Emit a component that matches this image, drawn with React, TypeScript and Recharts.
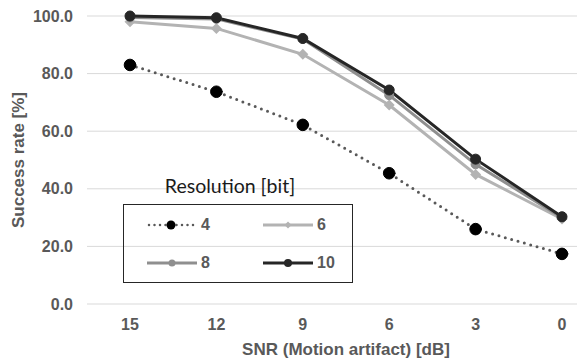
import React from 'react';
import { LineChart, Line, XAxis, YAxis, CartesianGrid, Label } from 'recharts';

const categories = ['15', '12', '9', '6', '3', '0'];
const res4 = [83.0, 73.7, 62.2, 45.4, 26.0, 17.4];
const res6 = [98.0, 95.7, 86.7, 69.1, 45.0, 29.5];
const res8 = [99.5, 99.0, 92.0, 72.5, 48.5, 30.0];
const res10 = [100.0, 99.4, 92.2, 74.3, 50.3, 30.3];
const yTicks = [0, 20, 40, 60, 80, 100];
const seriesNames = ['4', '6', '8', '10'];

const data = categories.map((c, i) => ({
  snr: c,
  r4: res4[i],
  r6: res6[i],
  r8: res8[i],
  r10: res10[i],
}));

const FONT = '"Liberation Sans", Arial, sans-serif';
const TXT = '#595959';
const C4 = '#595959';
const C6 = '#b3b3b3';
const C8 = '#8f8f8f';
const C10 = '#262626';

const Diamond = (props: any) => {
  const { cx, cy } = props;
  if (cx == null || cy == null) return null;
  const s = 5.5;
  return (
    <path
      d={`M${cx},${cy - s}L${cx + s},${cy}L${cx},${cy + s}L${cx - s},${cy}Z`}
      fill={C6}
      stroke="none"
    />
  );
};

const YTitle = () => (
  <text
    x={18}
    y={160}
    transform="rotate(-90 18 160)"
    textAnchor="middle"
    dominantBaseline="central"
    fontFamily={FONT}
    fontWeight="bold"
    fontSize={17}
    fill={TXT}
  >
    Success rate [%]
  </text>
);

const LegendSwatch = ({ kind }: { kind: string }) => {
  const w = 50;
  const h = 14;
  if (kind === '4') {
    return (
      <svg width={w} height={h} style={{ display: 'block' }}>
        <line x1={2} y1={7} x2={48} y2={7} stroke={C4} strokeWidth={2.5} strokeDasharray="0 5.5" strokeLinecap="round" />
        <circle cx={24} cy={7} r={4.5} fill="#000" />
      </svg>
    );
  }
  const color = kind === '6' ? C6 : kind === '8' ? C8 : C10;
  return (
    <svg width={w} height={h} style={{ display: 'block' }}>
      <line x1={0} y1={7} x2={w} y2={7} stroke={color} strokeWidth={3} />
      {kind === '6' ? (
        <path d="M25,3.5L28.5,7L25,10.5L21.5,7Z" fill={color} />
      ) : (
        <circle cx={25} cy={7} r={kind === '10' ? 4 : 3.5} fill={color} />
      )}
    </svg>
  );
};

export default function App() {
  return (
    <div style={{ position: 'fixed', left: 0, top: 0, width: 577, height: 363, overflow: 'hidden', background: '#fff' }}>
      <div style={{ position: 'relative', width: 620, height: 363 }}>
        <LineChart width={620} height={363} data={data} margin={{ top: 16, right: 15, bottom: 0, left: 0 }}>
          <CartesianGrid vertical={false} stroke="#d9d9d9" strokeWidth={1} />
          <XAxis
            dataKey="snr"
            axisLine={false}
            tickLine={false}
            tickSize={0}
            tickMargin={15}
            height={59}
            padding={{ left: 43, right: 43 }}
            tick={{ fontFamily: FONT, fontWeight: 'bold', fontSize: 16, fill: TXT }}
            interval={0}
          >
            <Label
              value="SNR (Motion artifact) [dB]"
              position="insideBottom"
              offset={8}
              style={{ fontFamily: FONT, fontWeight: 'bold', fontSize: 17, fill: TXT }}
            />
          </XAxis>
          <YAxis
            width={87}
            domain={[0, 100]}
            ticks={yTicks}
            axisLine={false}
            tickLine={false}
            tickSize={0}
            tickMargin={14}
            tickFormatter={(v: number) => v.toFixed(1)}
            tick={{ fontFamily: FONT, fontWeight: 'bold', fontSize: 16, fill: TXT }}
          >
            <Label content={<YTitle />} />
          </YAxis>
          <Line
            dataKey="r4"
            name={seriesNames[0]}
            stroke={C4}
            strokeWidth={3}
            strokeDasharray="0 6.6"
            strokeLinecap="round"
            dot={{ r: 5.8, fill: '#000', stroke: '#000', strokeWidth: 1, strokeDasharray: 'none' }}
            isAnimationActive={false}
          />
          <Line
            dataKey="r6"
            name={seriesNames[1]}
            stroke={C6}
            strokeWidth={3}
            dot={<Diamond />}
            isAnimationActive={false}
          />
          <Line
            dataKey="r8"
            name={seriesNames[2]}
            stroke={C8}
            strokeWidth={3}
            dot={{ r: 4.5, fill: C8, stroke: C8, strokeWidth: 1 }}
            isAnimationActive={false}
          />
          <Line
            dataKey="r10"
            name={seriesNames[3]}
            stroke={C10}
            strokeWidth={3}
            dot={{ r: 5, fill: C10, stroke: C10, strokeWidth: 1 }}
            isAnimationActive={false}
          />
        </LineChart>
        <div
          style={{
            position: 'absolute',
            left: 130,
            top: 174,
            width: 200,
            textAlign: 'center',
            fontFamily: 'Lato, "Open Sans", sans-serif',
            fontSize: 19.5,
            color: '#1a1a1a',
            lineHeight: '24px',
          }}
        >
          Resolution [bit]
        </div>
        <div
          style={{
            position: 'absolute',
            left: 123,
            top: 204,
            width: 228,
            height: 77,
            border: '1px solid #262626',
            boxSizing: 'content-box',
          }}
        >
          {seriesNames.map((n, i) => {
            const col = i % 2;
            const row = Math.floor(i / 2);
            return (
              <div
                key={n}
                style={{
                  position: 'absolute',
                  left: col === 0 ? 23 : 139,
                  top: row === 0 ? 12 : 50,
                  display: 'flex',
                  alignItems: 'center',
                  fontFamily: FONT,
                  fontWeight: 'bold',
                  fontSize: 16,
                  color: TXT,
                  height: 16,
                }}
              >
                <LegendSwatch kind={n} />
                <span style={{ marginLeft: 4 }}>{n}</span>
              </div>
            );
          })}
        </div>
      </div>
    </div>
  );
}
